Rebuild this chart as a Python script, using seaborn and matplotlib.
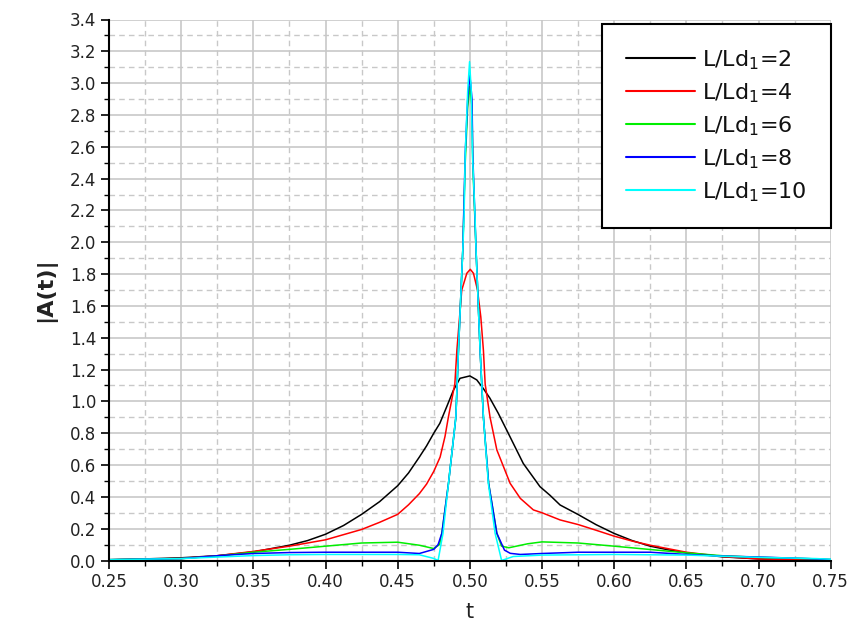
import matplotlib
matplotlib.use("Agg")
import matplotlib.pyplot as plt
import seaborn as sns
import pandas as pd
from matplotlib.ticker import MultipleLocator

# ---- data ----
t_black = [0.25,0.275,0.30,0.325,0.35,0.375,0.3875,0.40,0.4125,0.425,0.4375,0.45,0.4575,0.465,0.47,0.475,0.4792,0.484,0.4886,0.4932,0.50,0.5048,0.5094,0.5139,0.5197,0.5255,0.537,0.5486,0.5555,0.5625,0.575,0.5875,0.60,0.6125,0.625,0.6375,0.65,0.675,0.70,0.725,0.75]
v_black = [0.005,0.01,0.017,0.03,0.054,0.096,0.125,0.165,0.22,0.29,0.37,0.47,0.55,0.65,0.72,0.80,0.862,0.967,1.07,1.145,1.16,1.135,1.08,1.02,0.925,0.82,0.61,0.464,0.41,0.349,0.289,0.225,0.17,0.125,0.09,0.067,0.048,0.023,0.01,0.005,0.003]

t_red = [0.25,0.275,0.30,0.325,0.35,0.375,0.40,0.425,0.4375,0.45,0.4575,0.465,0.47,0.475,0.4794,0.4828,0.4851,0.4896,0.491,0.4944,0.4979,0.5003,0.5025,0.5053,0.5076,0.5094,0.5106,0.514,0.5187,0.5279,0.535,0.544,0.55,0.5625,0.575,0.5875,0.60,0.6125,0.625,0.65,0.675,0.70,0.725,0.75]
v_red = [0.004,0.008,0.013,0.03,0.057,0.09,0.13,0.195,0.24,0.29,0.35,0.42,0.48,0.56,0.65,0.78,0.90,1.11,1.32,1.70,1.805,1.83,1.805,1.70,1.53,1.32,1.11,0.90,0.695,0.485,0.39,0.318,0.30,0.255,0.226,0.19,0.153,0.122,0.096,0.052,0.025,0.01,0.005,0.003]

t_green = [0.25,0.30,0.325,0.35,0.375,0.40,0.425,0.45,0.465,0.475,0.479,0.4806,0.4852,0.4903,0.4921,0.4951,0.4968,0.4985,0.5000,0.5015,0.5020,0.5043,0.5071,0.5094,0.513,0.5187,0.522,0.527,0.54,0.55,0.575,0.60,0.625,0.65,0.675,0.70,0.74,0.75]
v_green = [0.005,0.012,0.028,0.052,0.07,0.09,0.11,0.115,0.096,0.075,0.10,0.171,0.485,0.90,1.32,1.95,2.5,2.85,2.98,2.85,2.5,1.95,1.32,0.90,0.485,0.171,0.09,0.08,0.105,0.117,0.11,0.09,0.069,0.048,0.03,0.02,0.01,0.006]

t_blue = [0.25,0.30,0.325,0.35,0.375,0.40,0.425,0.45,0.465,0.475,0.478,0.4806,0.4852,0.4903,0.4921,0.4951,0.4968,0.4985,0.5000,0.5015,0.5020,0.5043,0.5071,0.5094,0.513,0.5187,0.524,0.528,0.535,0.55,0.575,0.60,0.625,0.65,0.675,0.70,0.74,0.75]
v_blue = [0.005,0.012,0.03,0.044,0.05,0.052,0.052,0.052,0.044,0.07,0.10,0.171,0.485,0.90,1.32,1.95,2.56,2.9,3.05,2.9,2.56,1.95,1.32,0.90,0.485,0.171,0.065,0.045,0.038,0.044,0.052,0.052,0.052,0.038,0.028,0.022,0.01,0.006]

t_cyan = [0.25,0.30,0.35,0.375,0.40,0.425,0.45,0.465,0.475,0.478,0.4814,0.4852,0.4903,0.4921,0.4951,0.4960,0.4968,0.4985,0.4998,0.5010,0.5018,0.5036,0.5043,0.5071,0.5094,0.5128,0.5175,0.522,0.53,0.55,0.60,0.65,0.70,0.74,0.75]
v_cyan = [0.005,0.012,0.031,0.036,0.038,0.038,0.038,0.036,0.013,0.0,0.171,0.485,0.90,1.32,1.95,2.16,2.56,2.95,3.135,2.95,2.56,2.16,1.95,1.32,0.90,0.485,0.171,0.0,0.025,0.034,0.038,0.034,0.02,0.012,0.008]

labels = [r"L/Ld$_{\mathregular{1}}$=2", r"L/Ld$_{\mathregular{1}}$=4", r"L/Ld$_{\mathregular{1}}$=6",
          r"L/Ld$_{\mathregular{1}}$=8", r"L/Ld$_{\mathregular{1}}$=10"]
colors = ["#000000", "#ff0000", "#00ee00", "#0000ff", "#00ffff"]
series = [(t_black, v_black), (t_red, v_red), (t_green, v_green), (t_blue, v_blue), (t_cyan, v_cyan)]

sns.set_theme(style="white")
plt.rcParams["font.family"] = ["DejaVu Sans"]

fig = plt.figure(figsize=(8.54, 6.39), dpi=100)
ax = fig.add_axes([109/854, 1 - 560.5/639, 721.7/854, 541/639])

for (tt, vv), lab, col in zip(series, labels, colors):
    df = pd.DataFrame({"t": tt, "A": vv})
    sns.lineplot(data=df, x="t", y="A", ax=ax, color=col, linewidth=1.1, label=lab)

ax.set_xlim(0.25, 0.75)
ax.set_ylim(0.0, 3.4)
ax.xaxis.set_major_locator(MultipleLocator(0.05))
ax.xaxis.set_minor_locator(MultipleLocator(0.025))
ax.yaxis.set_major_locator(MultipleLocator(0.2))
ax.yaxis.set_minor_locator(MultipleLocator(0.1))
ax.xaxis.set_major_formatter(matplotlib.ticker.FormatStrFormatter("%.2f"))
ax.yaxis.set_major_formatter(matplotlib.ticker.FormatStrFormatter("%.1f"))

ax.grid(True, which="major", color="#c8c8c8", linewidth=1.2, linestyle="-")
ax.grid(True, which="minor", color="#c8c8c8", linewidth=1.0, linestyle=(0, (4, 3)))
ax.set_axisbelow(True)

for s in ["top", "right"]:
    ax.spines[s].set_visible(False)
for s in ["left", "bottom"]:
    ax.spines[s].set_color("black")
    ax.spines[s].set_linewidth(1.5)

ax.tick_params(which="major", direction="out", length=6, width=1.2, color="black",
               labelsize=12, labelcolor="#222222", pad=3, bottom=True, left=True)
ax.tick_params(which="minor", direction="out", length=3.5, width=1.0, color="black",
               bottom=True, left=True)

ax.set_xlabel("t", fontsize=15, labelpad=8, color="#222222")
ax.set_ylabel("|A(t)|", fontsize=16, fontweight="bold", labelpad=10, color="#222222")

leg = ax.legend(loc="upper right", bbox_to_anchor=(1.0, 0.992), borderaxespad=0,
                fontsize=16, handlelength=3.1, handletextpad=0.3, labelspacing=0.42,
                borderpad=1.1, fancybox=False, framealpha=1, edgecolor="black")
leg.get_frame().set_linewidth(1.5)
for line in leg.get_lines():
    line.set_linewidth(1.5)
for txt in leg.get_texts():
    txt.set_color("#111111")

fig.savefig("out.png", dpi=100)
